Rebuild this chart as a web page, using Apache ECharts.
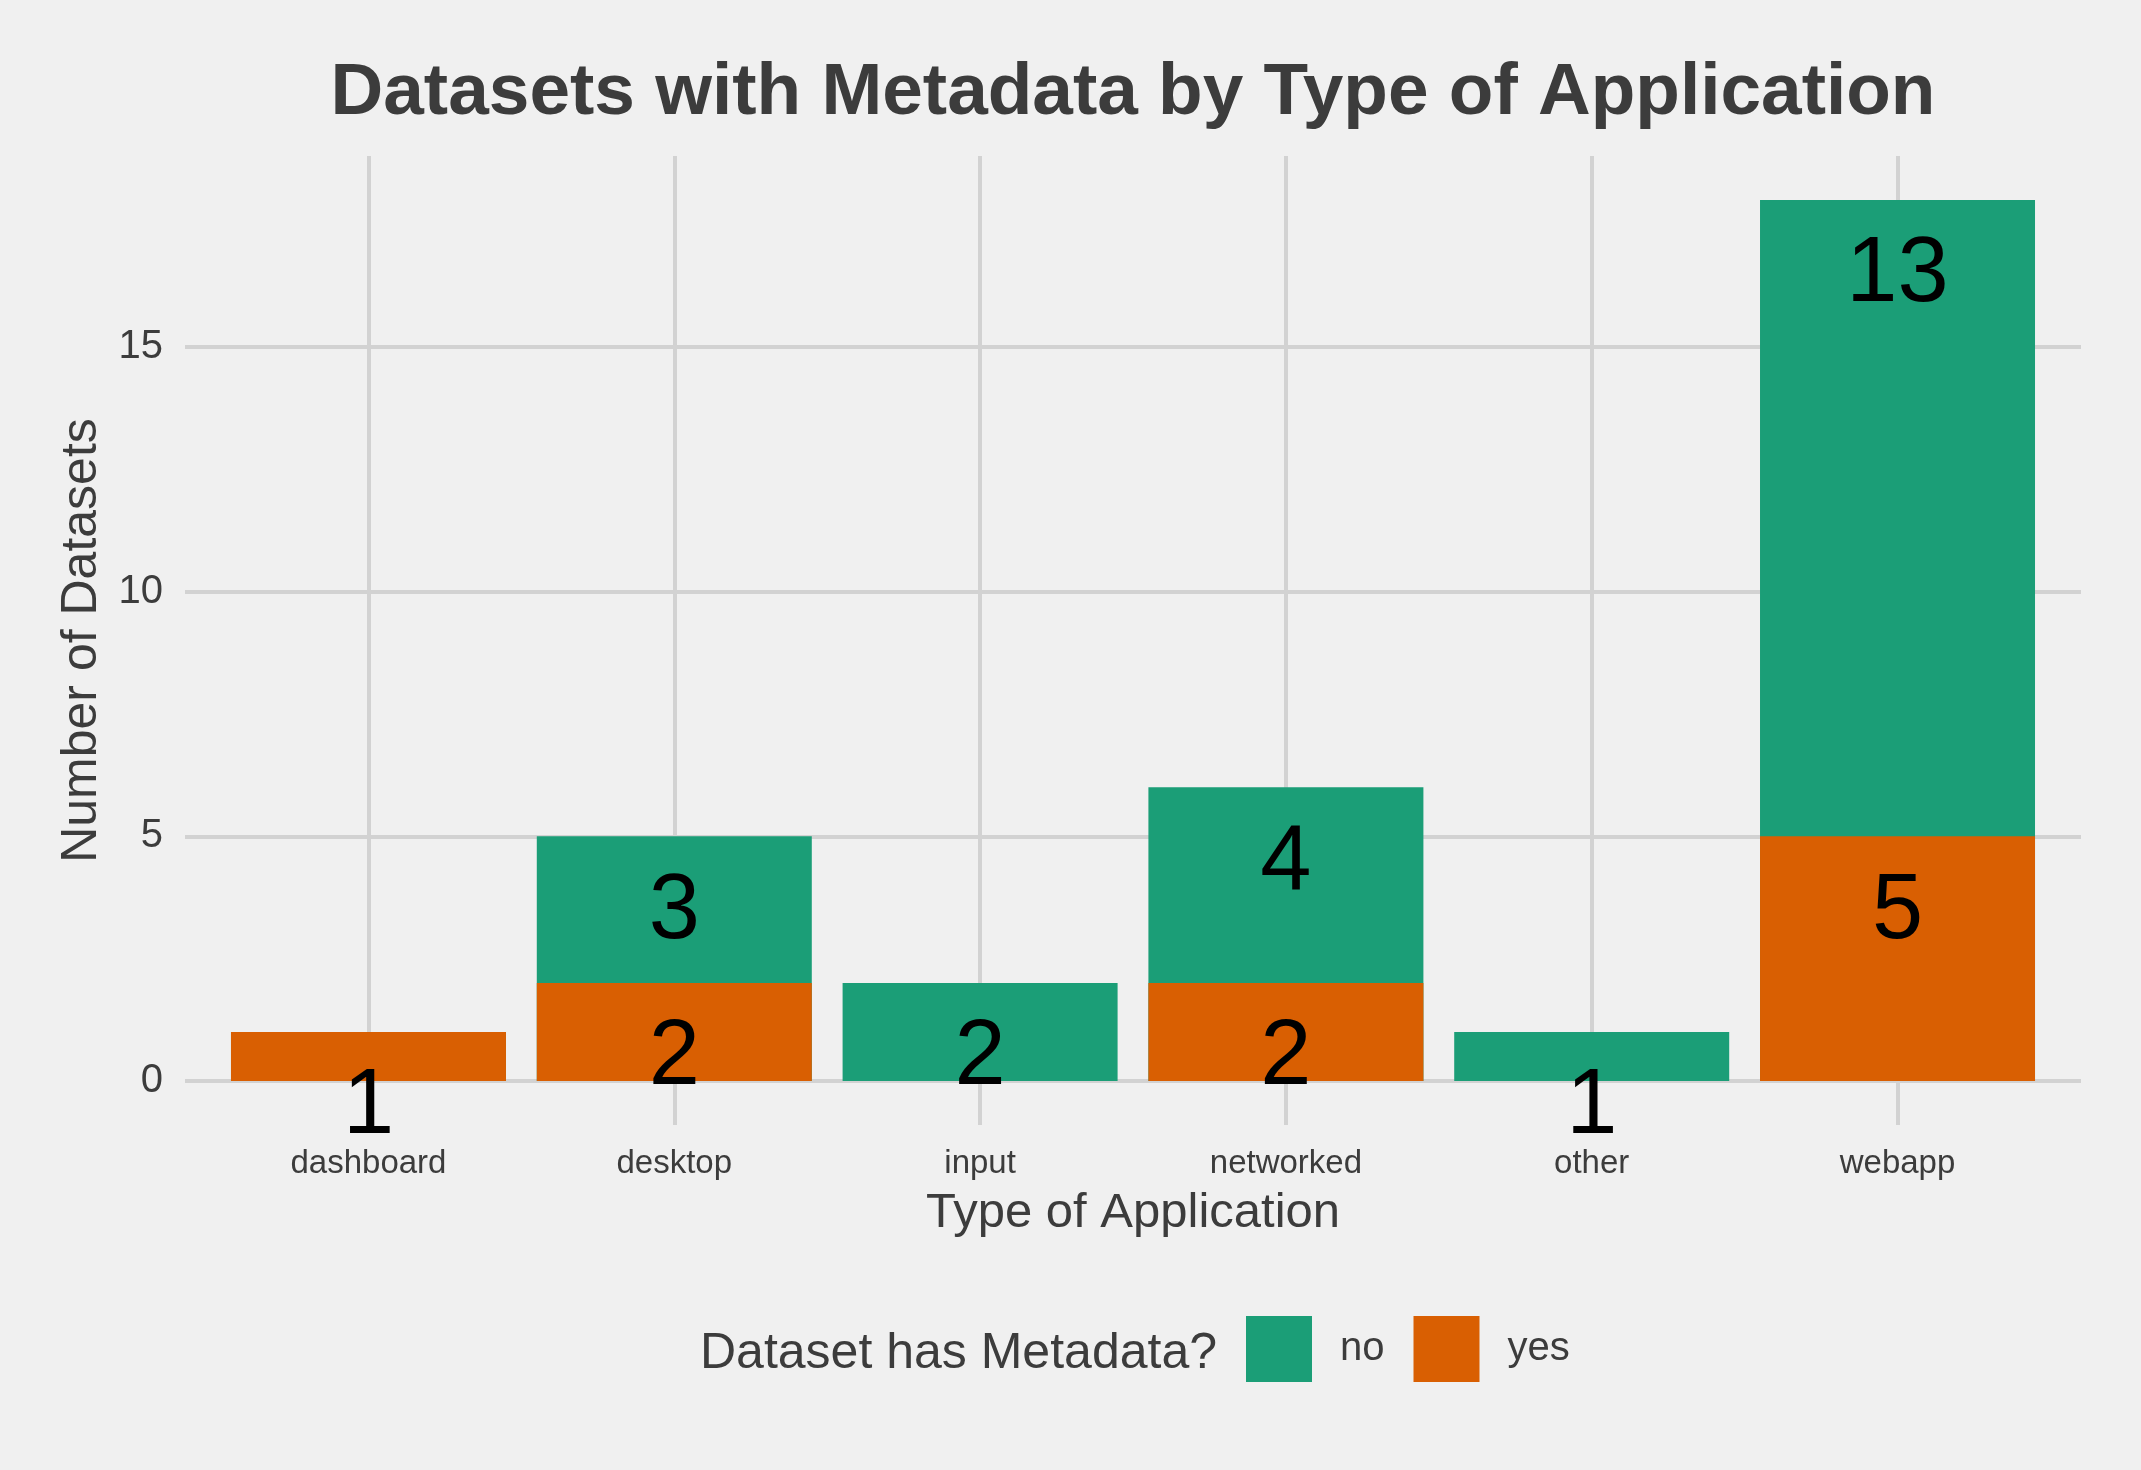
<!DOCTYPE html>
<html>
<head>
<meta charset="utf-8">
<script src="https://cdn.jsdelivr.net/npm/echarts@6/dist/echarts.min.js"></script>
<style>
  html, body { margin: 0; padding: 0; background: #F0F0F0; }
  #chart { width: 2141px; height: 1470px; }
</style>
</head>
<body>
<div id="chart"></div>
<script>
// ---- data ----
const categories = ['dashboard', 'desktop', 'input', 'networked', 'other', 'webapp'];
const yesValues = [1, 2, 0, 2, 0, 5];
const noValues = [0, 3, 2, 4, 1, 13];
const yTicks = [0, 5, 10, 15];
const xTicks = [1, 2, 3, 4, 5, 6];

const FONT = 'Liberation Sans';
const TEXT = '#3C3C3C';
const GRID = '#D2D2D2';

const chart = echarts.init(document.getElementById('chart'), null, { renderer: 'canvas' });

// "no" segments sit on top of "yes" segments: the green bar spans 0..(yes+no),
// the orange bar (drawn over it) spans 0..yes.
const totalPoints = noValues.map((v, i) => [i + 1, yesValues[i] + v]);
const yesPoints = yesValues.map((v, i) => [i + 1, v]);

function segLabel(vals) {
  return {
    show: true,
    position: ['50%', 0],
    align: 'center',
    verticalAlign: 'middle',
    offset: [0, 76],
    fontSize: 92,
    fontFamily: FONT,
    color: '#000000',
    formatter: p => (vals[p.dataIndex] > 0 ? String(vals[p.dataIndex]) : '')
  };
}

chart.setOption({
  backgroundColor: '#F0F0F0',
  animation: false,
  title: {
    text: 'Datasets with Metadata by Type of Application',
    left: 1133,
    textAlign: 'center',
    top: 57,
    padding: 0,
    textStyle: { fontSize: 73, fontWeight: 'bold', fontFamily: FONT, color: TEXT }
  },
  grid: { left: 185, right: 60, top: 156, bottom: 345, containLabel: false },
  xAxis: {
    type: 'value',
    min: 0.4,
    max: 6.6,
    name: 'Type of Application',
    nameLocation: 'middle',
    nameGap: 64,
    nameTextStyle: { fontSize: 49, fontFamily: FONT, color: TEXT },
    axisLine: { show: false },
    axisTick: { show: false, customValues: xTicks },
    axisLabel: {
      customValues: xTicks,
      margin: 22,
      fontSize: 33,
      fontFamily: FONT,
      color: TEXT,
      formatter: v => categories[Math.round(v) - 1] || ''
    },
    splitLine: { show: true, lineStyle: { color: GRID, width: 4 } }
  },
  yAxis: {
    type: 'value',
    min: -0.9,
    max: 18.9,
    name: 'Number of Datasets',
    nameLocation: 'middle',
    nameRotate: 90,
    nameGap: 78,
    nameTextStyle: { fontSize: 50, fontFamily: FONT, color: TEXT },
    axisLine: { show: false },
    axisTick: { show: false, customValues: yTicks },
    axisLabel: {
      customValues: yTicks,
      margin: 22,
      fontSize: 40,
      fontFamily: FONT,
      color: TEXT
    },
    splitLine: { show: true, lineStyle: { color: GRID, width: 4 } }
  },
  legend: {
    data: ['no', 'yes'],
    left: 1241,
    top: 1311,
    orient: 'horizontal',
    icon: 'rect',
    itemWidth: 66,
    itemHeight: 66,
    itemGap: 29,
    textStyle: { fontSize: 40, fontFamily: FONT, color: TEXT, padding: [8, 0, 0, 23] }
  },
  graphic: [{
    type: 'text',
    x: 1217,
    y: 1354,
    style: {
      text: 'Dataset has Metadata?',
      fontSize: 50,
      fontFamily: FONT,
      fill: TEXT,
      align: 'right',
      verticalAlign: 'middle'
    }
  }],
  series: [
    {
      name: 'no',
      type: 'bar',
      barWidth: 275,
      z: 2,
      itemStyle: { color: '#1B9E77' },
      label: segLabel(noValues),
      data: totalPoints
    },
    {
      name: 'yes',
      type: 'bar',
      barWidth: 275,
      barGap: '-100%',
      z: 3,
      itemStyle: { color: '#D95F02' },
      label: segLabel(yesValues),
      data: yesPoints
    }
  ]
});
</script>
</body>
</html>
